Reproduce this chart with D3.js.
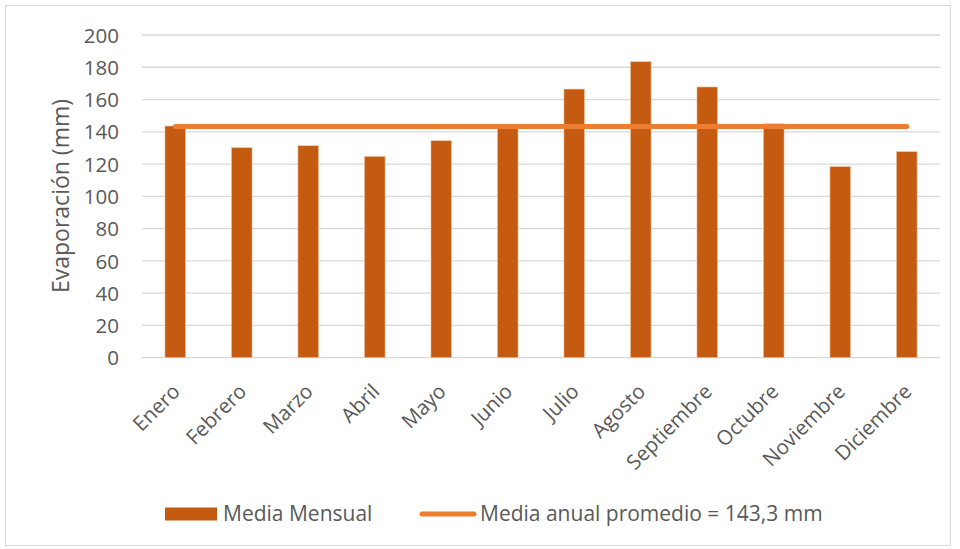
<!DOCTYPE html>
<html><head><meta charset="utf-8">
<script src="https://cdn.jsdelivr.net/npm/d3@7/dist/d3.min.js"></script>
<style>body{margin:0;background:#fff}svg{display:block}text{font-family:"Open Sans",sans-serif;fill:#595959}</style>
</head><body><svg id="c" width="960" height="549"></svg>
<script>
const months = ["Enero","Febrero","Marzo","Abril","Mayo","Junio","Julio","Agosto","Septiembre","Octubre","Noviembre","Diciembre"];
const monthly = [143.6,130.2,131.4,124.8,134.5,142.4,166.5,183.5,167.8,145.0,118.4,127.7];
const annualMean = 143.3;
const yTicks = [0,20,40,60,80,100,120,140,160,180,200];
const seriesNames = ["Media Mensual","Media anual promedio = 143,3 mm"];
const yTitle = "Evaporación (mm)";

const svg = d3.select("#c");
const pL=142, pR=940, pT=35, pB=357.7;
svg.append("rect").attr("x",5.5).attr("y",5.5).attr("width",945).attr("height",540)
  .attr("fill","#fff").attr("stroke","#d9d9d9");

const x = d3.scaleBand().domain(months).range([pL,pR]).paddingInner(0.69).paddingOuter(0.345);
const y = d3.scaleLinear().domain([0,200]).range([pB,pT]);

// gridlines
svg.append("g").selectAll("line").data(yTicks).join("line")
  .attr("x1",pL).attr("x2",pR).attr("y1",d=>y(d)).attr("y2",d=>y(d))
  .attr("stroke","#d9d9d9").attr("stroke-width",1.3);

// y axis labels
const yAxis = d3.axisLeft(y).tickValues(yTicks).tickSize(0).tickPadding(0);
const gy = svg.append("g").attr("transform",`translate(119,0)`).call(yAxis);
gy.select(".domain").remove();
gy.selectAll("text").attr("font-size",20.5).attr("fill","#595959").attr("dy","0.35em").style("font-family","'Open Sans',sans-serif");

// bars
svg.append("g").selectAll("rect").data(monthly).join("rect")
  .attr("x",(d,i)=>x(months[i])).attr("width",x.bandwidth())
  .attr("y",d=>y(d)).attr("height",d=>y(0)-y(d))
  .attr("fill","#c55a11").attr("stroke","#f0c8a8").attr("stroke-width",0.6);

// mean line
const xc = m => x(m)+x.bandwidth()/2;
svg.append("line").attr("x1",xc(months[0])).attr("x2",xc(months[months.length-1]))
  .attr("y1",y(annualMean)).attr("y2",y(annualMean))
  .attr("stroke","#ed7d31").attr("stroke-width",5).attr("stroke-linecap","round");

// x labels
const xAxis = d3.axisBottom(x).tickSize(0).tickPadding(0);
const gx = svg.append("g").attr("transform",`translate(0,${pB})`).call(xAxis);
gx.select(".domain").remove();
gx.selectAll("text").attr("font-size",20.5).attr("fill","#595959").style("font-family","'Open Sans',sans-serif")
  .attr("text-anchor","end").attr("y",null).attr("dy","0.35em")
  .attr("transform","translate(1,30) rotate(-45)");

// y title
svg.append("text").attr("transform","translate(69,196) rotate(-90)").attr("text-anchor","middle")
  .attr("font-size",23).text(yTitle);

// legend
svg.append("rect").attr("x",165).attr("y",507.5).attr("width",52).attr("height",13).attr("fill","#c55a11");
svg.append("text").attr("x",223).attr("y",521).attr("font-size",21).text(seriesNames[0]);
svg.append("line").attr("x1",422).attr("x2",474).attr("y1",514).attr("y2",514)
  .attr("stroke","#ed7d31").attr("stroke-width",5).attr("stroke-linecap","round");
svg.append("text").attr("x",480).attr("y",521).attr("font-size",21).text(seriesNames[1]);
</script></body></html>
